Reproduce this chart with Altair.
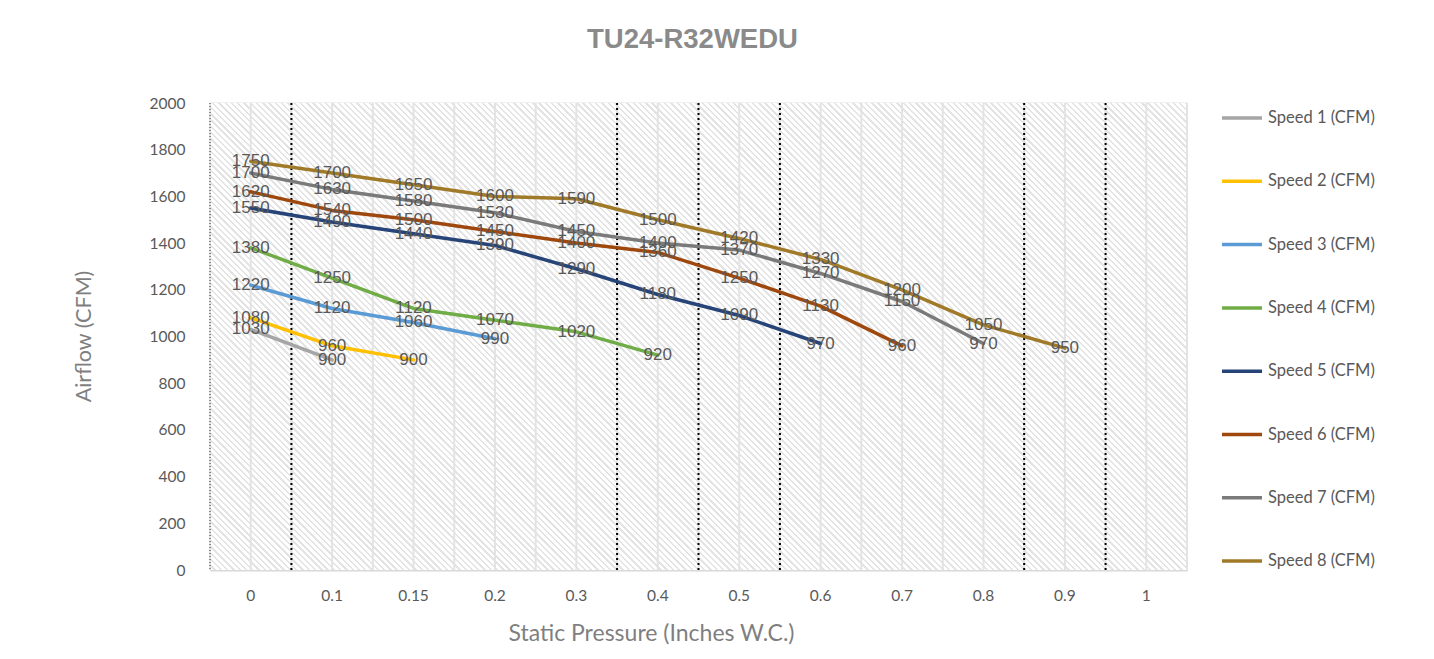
import altair as alt
import pandas as pd

cats = ["0", "0.1", "0.15", "0.2", "0.3", "0.4", "0.5", "0.6", "0.7", "0.8", "0.9", "1"]
series_names = ["Speed 1 (CFM)", "Speed 2 (CFM)", "Speed 3 (CFM)", "Speed 4 (CFM)",
                "Speed 5 (CFM)", "Speed 6 (CFM)", "Speed 7 (CFM)", "Speed 8 (CFM)"]
speed1 = [1030, 900]
speed2 = [1080, 960, 900]
speed3 = [1220, 1120, 1060, 990]
speed4 = [1380, 1250, 1120, 1070, 1020, 920]
speed5 = [1550, 1490, 1440, 1390, 1290, 1180, 1090, 970]
speed6 = [1620, 1540, 1500, 1450, 1400, 1360, 1250, 1130, 960]
speed7 = [1700, 1630, 1580, 1530, 1450, 1400, 1370, 1270, 1150, 970]
speed8 = [1750, 1700, 1650, 1600, 1590, 1500, 1420, 1330, 1200, 1050, 950]
colors = ["#A5A5A5", "#FFC000", "#5B9BD5", "#70AD47", "#264478", "#9E480E", "#7A7A7A", "#A07A28"]
y_ticks = [0, 200, 400, 600, 800, 1000, 1200, 1400, 1600, 1800, 2000]
dotted_cats = ["0.1", "0.4", "0.5", "0.6", "0.9", "1"]

all_series = [speed1, speed2, speed3, speed4, speed5, speed6, speed7, speed8]
rows = []
for si, (name, vals) in enumerate(zip(series_names, all_series)):
    for ci, v in enumerate(vals):
        rows.append({"series": name, "order": si, "cat": cats[ci], "cat_idx": ci, "value": v})
df = pd.DataFrame(rows)
cat_df = pd.DataFrame({"cat": cats})
dot_df = pd.DataFrame({"cat": dotted_cats})
first_df = pd.DataFrame({"cat": [cats[0]]})
last_df = pd.DataFrame({"cat": [cats[-1]]})

W, H = 977, 467
xscale = alt.Scale(type="band", domain=cats, paddingInner=0, paddingOuter=0)
yscale = alt.Scale(domain=[0, 2000], nice=False)

GRID = "#e3e3e3"
TXT = "#595959"
TTL = "#7f7f7f"

x_axis = alt.Axis(title="Static Pressure (Inches W.C.)", grid=False, ticks=False, tickSize=0,
                  domain=True, domainColor="#d9d9d9", domainWidth=1.5,
                  labelAngle=0, labelFontSize=15.5, labelColor=TXT, labelFont="Lato",
                  labelPadding=25, labelBaseline="middle",
                  titleFontSize=23, titleColor=TTL, titleFont="Lato", titleFontWeight="normal",
                  titleX=441, titleY=63, titleBaseline="middle", titleAlign="center")
y_axis = alt.Axis(title="Airflow (CFM)", values=y_ticks, format="d", grid=True, gridColor=GRID, gridWidth=2,
                  ticks=False, tickSize=0, domain=False, labelFontSize=15.5, labelColor=TXT,
                  labelFont="Lato", labelPadding=25,
                  titleFontSize=21.5, titleColor=TTL, titleFont="Lato", titleFontWeight="normal",
                  titleX=-126, titleY=233, titleAlign="center", titleBaseline="middle")

# hatched plot-area background (diagonal stripes via a repeating linear gradient)
N = 230
stops = []
for k in range(N):
    a = round(k / N, 6)
    b = round((k + 0.62) / N, 6)
    c = round((k + 1) / N, 6)
    stops += [{"offset": a, "color": "#ffffff"}, {"offset": b, "color": "#ffffff"},
              {"offset": b, "color": "#e4e4e4"}, {"offset": c, "color": "#e4e4e4"}]
r = H / W
s = (1 + r) / (1 + r * r)
hatch = alt.LinearGradient(gradient="linear", x1=0, y1=1, x2=s, y2=1 - s * r, stops=stops)

background = alt.Chart(first_df).mark_rect(fill=hatch, stroke=None).encode(
    x=alt.value(0), x2=alt.value("width"), y=alt.value(0), y2=alt.value("height"))


def xenc(bp):
    return alt.X("cat:N", scale=xscale, bandPosition=bp, sort=cats, axis=x_axis)


grid_center = alt.Chart(cat_df).mark_rule(color=GRID, strokeWidth=2).encode(x=xenc(0.5))
grid_edge = alt.Chart(cat_df).mark_rule(color=GRID, strokeWidth=2).encode(x=xenc(0))
grid_last = alt.Chart(last_df).mark_rule(color=GRID, strokeWidth=2).encode(x=xenc(1))
dotted = alt.Chart(dot_df).mark_rule(color="#000000", strokeWidth=2, strokeDash=[2, 3]).encode(x=xenc(0))
dotted_first = alt.Chart(first_df).mark_rule(color="#333333", strokeWidth=1, strokeDash=[1, 2]).encode(x=xenc(0))

lines = alt.Chart(df).mark_line(strokeWidth=3.5, strokeCap="round", strokeJoin="round").encode(
    x=xenc(0.5),
    y=alt.Y("value:Q", scale=yscale, axis=y_axis),
    color=alt.Color("series:N", scale=alt.Scale(domain=series_names, range=colors),
                    legend=alt.Legend(title=None, orient="none", legendX=1010, legendY=-7,
                                      symbolType="stroke", symbolSize=1600, symbolStrokeWidth=3.5,
                                      labelFontSize=16.5, labelColor=TXT, labelFont="Lato",
                                      labelOffset=4, rowPadding=32.3)),
    detail="series:N",
    order="cat_idx:Q",
)

labels = alt.Chart(df).mark_text(fontSize=17, font="Liberation Sans", color=TXT,
                                 align="center", baseline="middle").encode(
    x=xenc(0.5),
    y=alt.Y("value:Q", scale=yscale, axis=y_axis),
    text="value:Q",
)

chart = alt.layer(background, grid_center, grid_edge, grid_last, dotted, dotted_first, lines, labels).properties(
    width=W, height=H,
    title=alt.TitleParams("TU24-R32WEDU", fontSize=27.5, fontWeight="bold", color="#8a8a8a",
                          font="Liberation Sans", anchor="middle", baseline="alphabetic", offset=21, dx=-6),
    autosize=alt.AutoSizeParams(type="none"),
    padding={"left": 202, "top": 95, "right": 239, "bottom": 81},
).configure_view(stroke=None).configure(background="#ffffff")

chart.save("out.html", embed_options={"renderer": "svg", "actions": False})
